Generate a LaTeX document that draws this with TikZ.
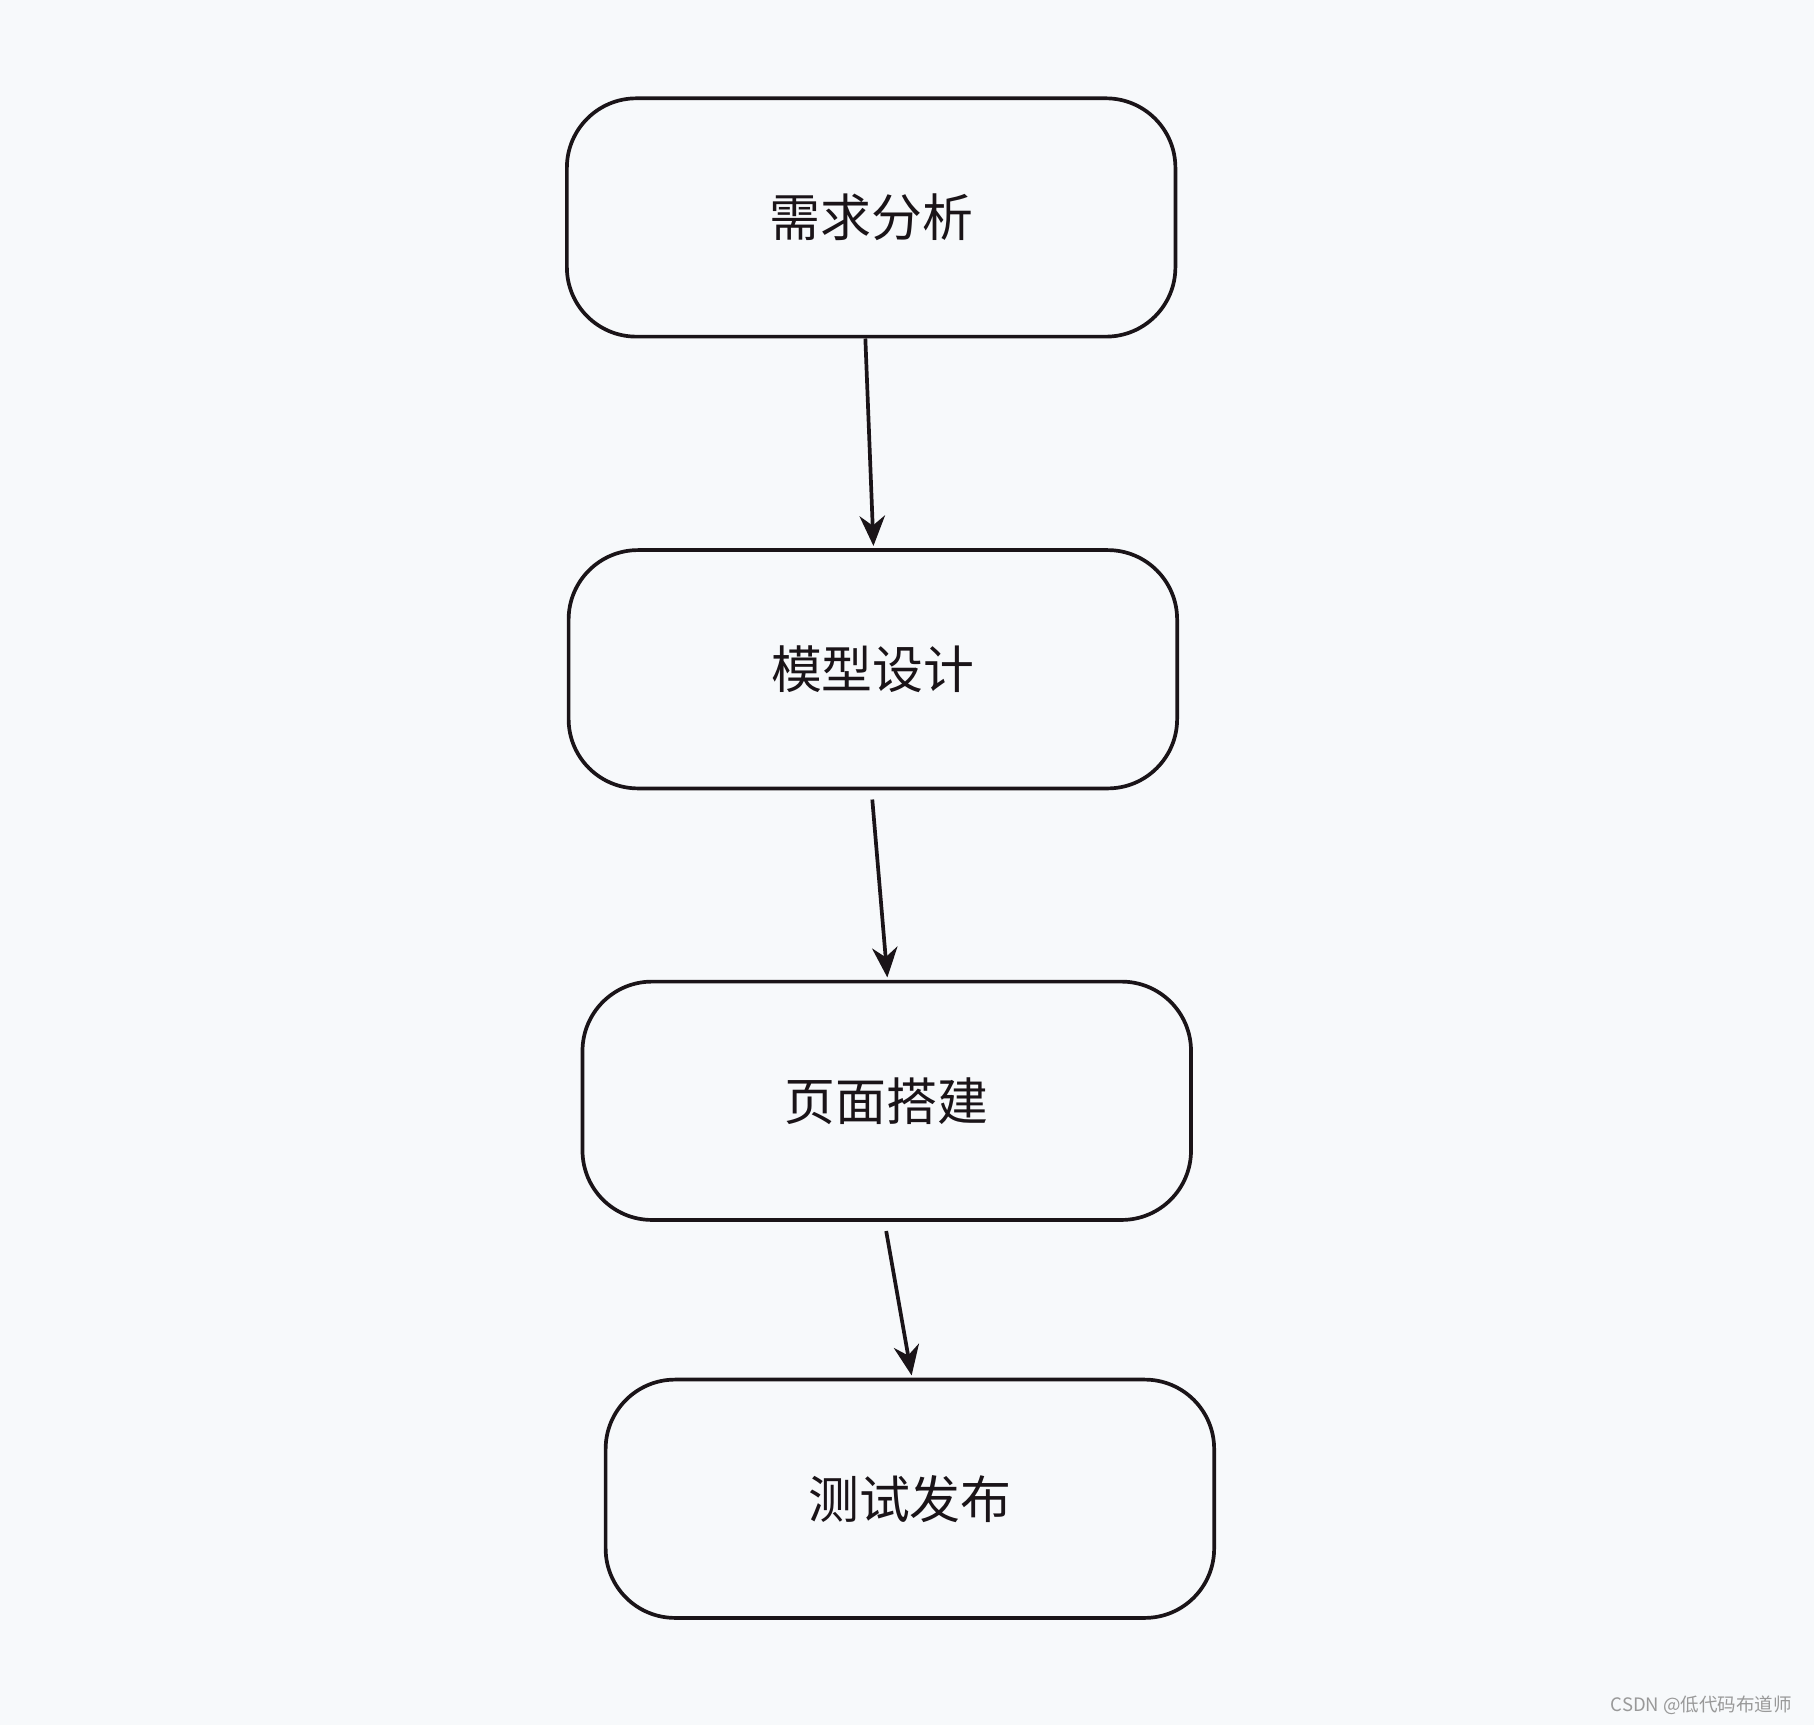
\documentclass[tikz,border=0pt]{standalone}
\usepackage{fontspec}
\setmainfont{Noto Sans CJK SC}
\usetikzlibrary{arrows.meta,calc}
\definecolor{bg}{HTML}{F7F9FB}
\definecolor{ln}{HTML}{1A1418}
\tikzset{
  stepbox/.style={draw=ln,line width=1.6pt,rounded corners=30pt,minimum width=263pt,minimum height=103pt,inner sep=0pt,font=\fontsize{22}{26}\selectfont,text=ln},
  arr/.style={draw=ln,line width=1.6pt,-{Stealth[length=13pt,width=11pt]}}
}
\begin{document}
\begin{tikzpicture}[x=0.5pt,y=-0.5pt]
\fill[bg] (0,0) rectangle (1568,1491);
\useasboundingbox (0,0) rectangle (1568,1491);
\node[stepbox] (b1) at (753,188) {需求分析};
\node[stepbox] (b2) at (754.5,578.5) {模型设计};
\node[stepbox] (b3) at (766.5,951.5) {页面搭建};
\node[stepbox] (b4) at (786.5,1295.5) {测试发布};
\draw[arr] ($(b1.south)+(-5,0)$) -- ($(b2.north)+(0.5,-2)$);
\draw[arr] ($(b2.south)+(-0.5,8)$) -- ($(b3.north)+(0.5,-2)$);
\draw[arr] ($(b3.south)+(-0.5,8)$) -- ($(b4.north)+(1.5,-2)$);
\node[font=\fontsize{8}{10}\selectfont,text=gray!80,anchor=east] (wm) at (1556,1474) {CSDN @低代码布道师};
\end{tikzpicture}
\end{document}
